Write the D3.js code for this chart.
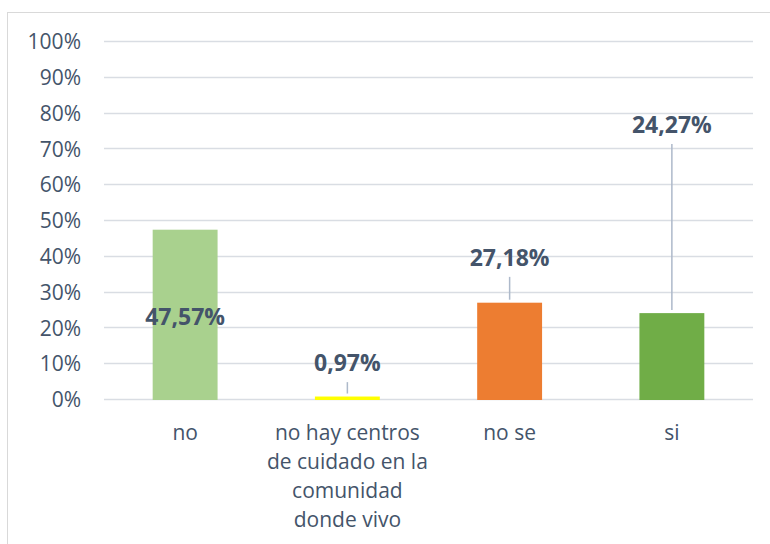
<!DOCTYPE html>
<html>
<head>
<meta charset="utf-8">
<script src="https://cdn.jsdelivr.net/npm/d3@7"></script>
<style>
  body { margin: 0; background: #fff; }
  text { font-family: "Open Sans", sans-serif; fill: #44546A; }
</style>
</head>
<body>
<div id="chart"></div>
<script>
// chart data
let categories = ["no", "no hay centros de cuidado en la comunidad donde vivo", "no se", "si"];
let catLines = [["no"], ["no hay centros", "de cuidado en la", "comunidad", "donde vivo"], ["no se"], ["si"]];
let values = [0.4757, 0.0097, 0.2718, 0.2427];
let valueLabels = ["47,57%", "0,97%", "27,18%", "24,27%"];
let barColors = ["#A9D18E", "#FFFF00", "#ED7D31", "#70AD47"];
// where each data label sits, in axis units
let labelAt = [0.232, 0.103, 0.397, 0.768];
let yTicks = d3.range(0, 1.01, 0.1);

let W = 770, H = 544;
let margin = {top: 42, right: 17, bottom: 144, left: 104};
let width = W - margin.left - margin.right;
let height = H - margin.top - margin.bottom;

let svg = d3.select("#chart").append("svg")
    .attr("width", W)
    .attr("height", H);

// outer frame
svg.append("rect")
    .attr("x", 7.5).attr("y", 12.5)
    .attr("width", W + 10).attr("height", H + 10)
    .attr("fill", "none")
    .attr("stroke", "#D9D9D9");

let g = svg.append("g")
    .attr("transform", `translate(${margin.left},${margin.top})`);

let x = d3.scaleBand()
    .domain(categories)
    .range([0, width])
    .paddingInner(0.6)
    .paddingOuter(0.3);

let y = d3.scaleLinear()
    .domain([0, 1])
    .range([height, 0]);

let rows = values.map((v, i) => ({
    cat: categories[i], value: v, label: valueLabels[i], at: labelAt[i], color: barColors[i]
}));
let cx = d => x(d.cat) + x.bandwidth() / 2;

// gridlines
g.selectAll(".grid")
    .data(yTicks)
    .enter().append("line")
    .attr("class", "grid")
    .attr("x1", 0).attr("x2", width)
    .attr("y1", d => Math.round(y(d)) - 0.5)
    .attr("y2", d => Math.round(y(d)) - 0.5)
    .attr("stroke", "#D9DDE3")
    .attr("stroke-width", 1.5);

// y axis labels
let yAxis = d3.axisLeft(y)
    .tickValues(yTicks)
    .tickFormat(d => Math.round(d * 100) + "%")
    .tickSize(0)
    .tickPadding(23);

g.append("g")
    .attr("class", "axis y-axis")
    .call(yAxis)
    .call(a => a.select(".domain").remove())
    .selectAll("text")
    .style("font-size", "21px")
    .style("font-family", "'Open Sans', sans-serif")
    .style("fill", "#44546A");

// bars
g.selectAll(".bar")
    .data(rows)
    .enter().append("rect")
    .attr("class", "bar")
    .attr("x", d => x(d.cat))
    .attr("y", d => y(d.value))
    .attr("width", x.bandwidth())
    .attr("height", d => y(0) - y(d.value))
    .attr("fill", d => d.color);

// leader lines from labels down to bars
g.selectAll(".leader")
    .data(rows.filter(d => d.at > d.value + 0.05))
    .enter().append("line")
    .attr("class", "leader")
    .attr("x1", cx)
    .attr("x2", cx)
    .attr("y1", d => y(d.at) + 19)
    .attr("y2", d => y(d.value) - 3)
    .attr("stroke", "#ADB9CA")
    .attr("stroke-width", 1.5);

// value labels
g.selectAll(".vlabel")
    .data(rows)
    .enter().append("text")
    .attr("class", "vlabel")
    .attr("x", cx)
    .attr("y", d => y(d.at))
    .attr("dy", "0.36em")
    .attr("text-anchor", "middle")
    .style("font-size", "23px")
    .style("font-weight", "bold")
    .text(d => d.label);

// category labels
let cat = g.selectAll(".clabel")
    .data(rows)
    .enter().append("text")
    .attr("class", "clabel")
    .attr("text-anchor", "middle")
    .attr("transform", d => `translate(${cx(d)},${height + 40})`)
    .style("font-size", "21px");

cat.selectAll("tspan")
    .data((d, i) => catLines[i])
    .enter().append("tspan")
    .attr("x", 0)
    .attr("y", (d, i) => i * 29)
    .text(d => d);
</script>
</body>
</html>
